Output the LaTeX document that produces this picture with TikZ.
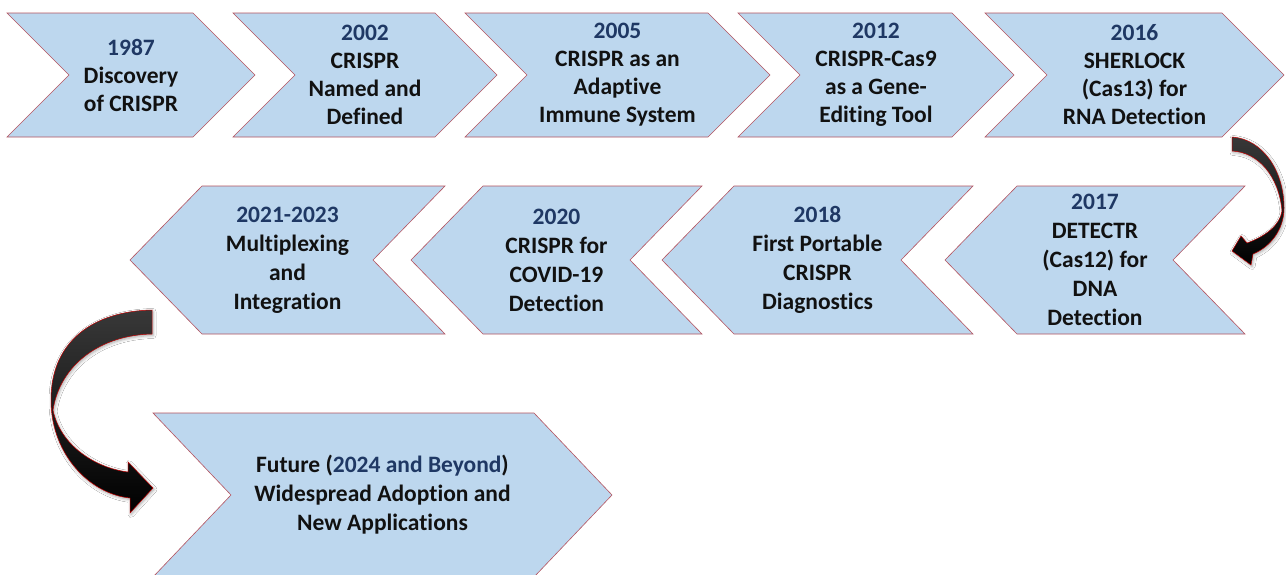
\documentclass[tikz,border=0pt]{standalone}
\usepackage{fontspec}
\setmainfont{Carlito}[Ligatures=NoCommon]
\usetikzlibrary{shadows.blur}

\definecolor{chevfill}{HTML}{BDD7EE}
\definecolor{chevline}{HTML}{B4535F}
\definecolor{yearblue}{HTML}{1F3864}
\definecolor{bodytxt}{HTML}{111111}
\definecolor{arrowrim}{HTML}{C00000}

\newcommand\yeartxt[1]{\textcolor{yearblue}{#1}}

\tikzset{
  chev/.style={fill=chevfill, draw=chevline, line width=0.6pt, line join=miter},
  lbl/.style={align=center, text=bodytxt, inner sep=0pt,
              font=\fontsize{23.5}{28}\selectfont\bfseries},
  lbltall/.style={lbl, font=\fontsize{23.5}{29}\selectfont\bfseries},
  bendarrow/.style={top color=black!78, bottom color=black, draw=arrowrim,
              line width=0.5pt,
              blur shadow={shadow xshift=1pt, shadow yshift=-1.5pt,
                           shadow blur radius=3pt, shadow opacity=35}},
}

% right-pointing step: name, left x, top-right x, top y, bottom y, point depth, text, label style
\newcommand\chevE[8]{%
  \pgfmathsetmacro\cmid{(#4+#5)/2}%
  \draw[chev] (#2,#4) -- (#3,#4) -- ({#3+#6},\cmid) -- (#3,#5) -- (#2,#5)
              -- ({#2+#6},\cmid) -- cycle;
  \node[#8] (#1) at ({(#2+#6+#3)/2},\cmid) {#7};
}
% left-pointing step: name, tip x, top-right x, top y, bottom y, point depth, text, label style
\newcommand\chevW[8]{%
  \pgfmathsetmacro\cmid{(#4+#5)/2}%
  \draw[chev] (#2,\cmid) -- ({#2+#6},#4) -- (#3,#4) -- ({#3-#6},\cmid)
              -- (#3,#5) -- ({#2+#6},#5) -- cycle;
  \node[#8] (#1) at ({(#2+#3)/2},\cmid) {#7};
}

\begin{document}
\begin{tikzpicture}[x=1pt,y=-1pt]
  \path[use as bounding box, fill=white] (0,0) rectangle (1286,574);

  % first row, left to right
  \chevE{c1987}{7}{193}{13}{137}{62}{\yeartxt{1987}\\Discovery\\of CRISPR}{lbl}
  \chevE{c2002}{233}{435}{13}{137}{62}{\yeartxt{2002}\\CRISPR\\Named and\\Defined}{lbl}
  \chevE{c2005}{465}{708}{13}{137}{62}{\yeartxt{2005}\\CRISPR as an\\Adaptive\\Immune System}{lbl}
  \chevE{c2012}{738}{952}{13}{137}{62}{\yeartxt{2012}\\CRISPR-Cas9\\as a Gene-\\Editing Tool}{lbl}
  \chevE{c2016}{985}{1222}{13}{137}{62}{\yeartxt{2016}\\SHERLOCK\\(Cas13) for\\RNA Detection}{lbl}

  % second row, right to left
  \chevW{c2017}{945}{1245}{186}{334}{72}{\yeartxt{2017}\\DETECTR\\(Cas12) for\\DNA\\Detection}{lbltall}
  \chevW{c2018}{662}{973}{186}{334}{72}{\yeartxt{2018}\\First Portable\\CRISPR\\Diagnostics}{lbltall}
  \chevW{c2020}{411}{702}{186}{334}{72}{\yeartxt{2020}\\CRISPR for\\COVID-19\\Detection}{lbltall}
  \chevW{c2021}{130}{445}{186}{334}{72}{\yeartxt{2021-2023}\\Multiplexing\\and\\Integration}{lbltall}

  % last step
  \chevE{cfuture}{153}{534}{413}{577}{78}{Future (\yeartxt{2024 and Beyond})\\Widespread Adoption and\\New Applications}{lbltall}

  % turn from the first row down to the second
  \path[bendarrow] (1232,137) .. controls (1262,139) and (1284,170) .. (1284,208)
    .. controls (1284,230) and (1270,247) .. (1253,254)
    -- (1251,265) -- (1232,251) -- (1241,236) -- (1247,243)
    .. controls (1266,236) and (1280,225) .. (1282,211)
    .. controls (1279,176) and (1258,152) .. (1232,151) -- cycle;

  % turn from the second row down to the last step
  \path[bendarrow] (152,310) .. controls (95,311) and (50,340) .. (51,402)
    .. controls (52,455) and (90,494) .. (130,498)
    -- (130,513) -- (153,488) -- (128,462) -- (128,472)
    .. controls (95,468) and (60,445) .. (53,410)
    .. controls (60,365) and (100,335) .. (152,334) -- cycle;
\end{tikzpicture}
\end{document}
